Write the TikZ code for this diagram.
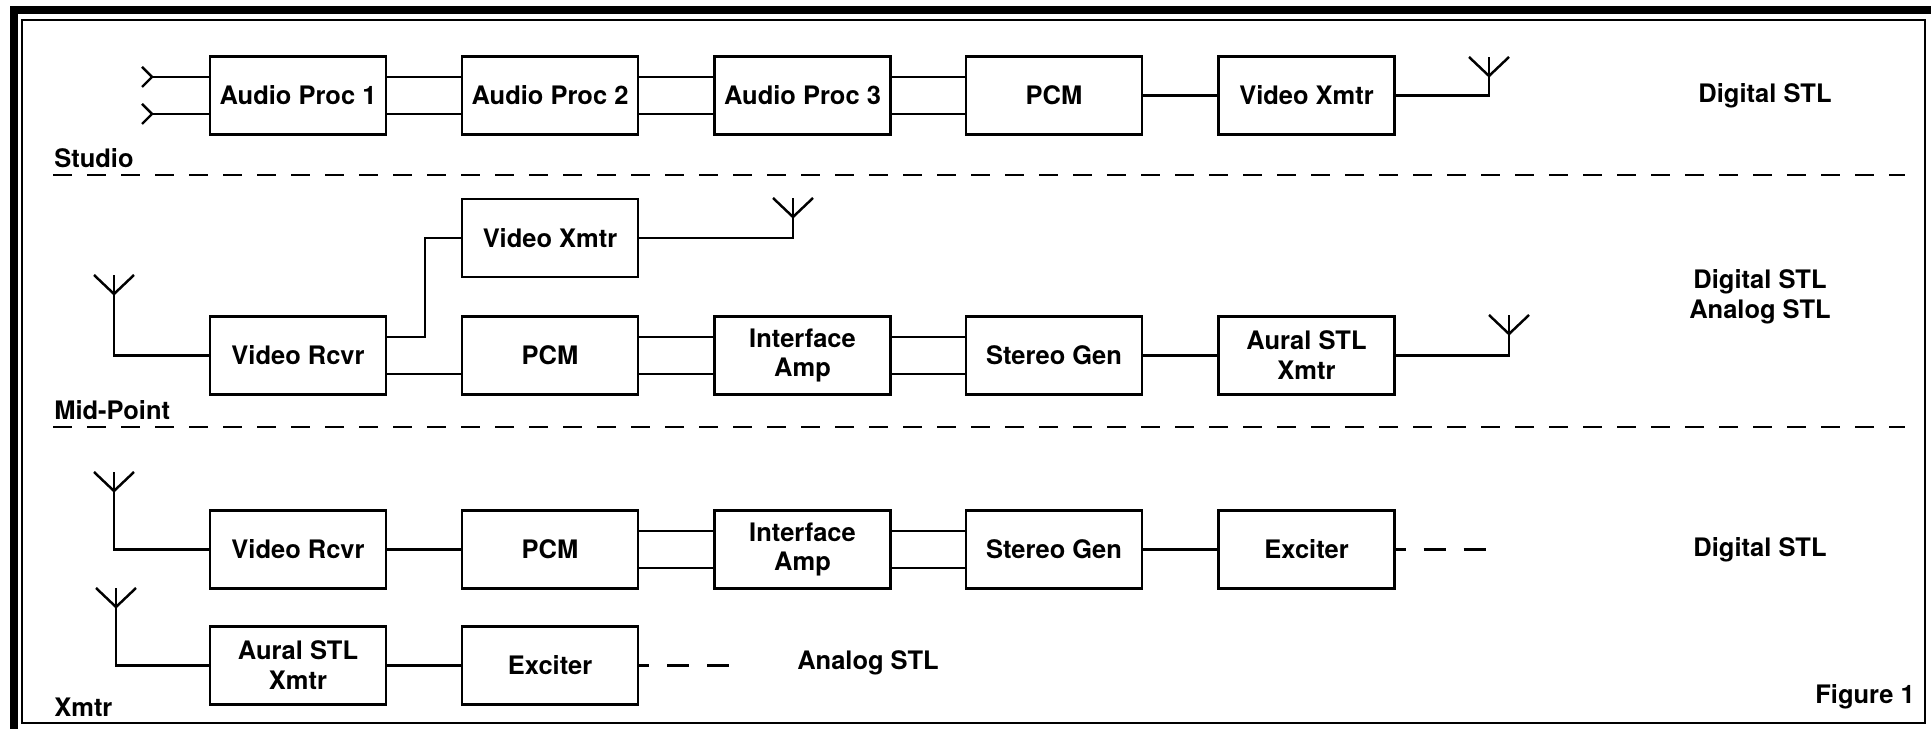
\documentclass[tikz,border=0pt]{standalone}
\usepackage{fontspec}
\setmainfont{TeX Gyre Heros}
\usetikzlibrary{calc}
\tikzset{
    unit/.style={draw, line width=1.4pt, minimum width=3.52cm, minimum height=1.56cm,
        align=center, inner sep=2pt, font=\fontsize{14.5}{17}\selectfont\bfseries},
    lbl/.style={align=center, inner sep=0pt, font=\fontsize{14.5}{17}\selectfont\bfseries},
    wire/.style={line width=1.4pt},
    divider/.style={line width=1.6pt, dash pattern=on 0.38cm off 0.3cm},
    tail/.style={line width=1.6pt, dash pattern=on 0.44cm off 0.36cm, dash phase=0.24cm},
    aerial/.pic={\draw[line width=1.4pt] (-0.4,0) -- (0,-0.38) -- (0.4,0);},
    jack/.pic={\draw[line width=1.4pt] (-0.2,0.2) -- (0,0) -- (-0.2,-0.2);}
}

\begin{document}
\begin{tikzpicture}
    \useasboundingbox (0,0) rectangle (38.62,14.58);

    % Frame
    \draw[line width=4pt] (0.28,0) |- (38.62,14.38);
    \draw[line width=1pt] (0.44,0.12) rectangle (38.5,14.18);

    % Studio
    \node[unit] (audioA) at (5.96,12.67) {Audio Proc 1};
    \node[unit] (audioB) at (11.0,12.67) {Audio Proc 2};
    \node[unit] (audioC) at (16.05,12.67) {Audio Proc 3};
    \node[unit] (pcmS) at (21.08,12.67) {PCM};
    \node[unit] (vxS) at (26.13,12.67) {Video Xmtr};
    \coordinate (inA) at (3.04,13.04);
    \coordinate (inB) at (3.04,12.30);
    \coordinate (antS) at (29.78,13.44);
    \pic at (inA) {jack};
    \pic at (inB) {jack};
    \pic at (antS) {aerial};
    \draw[wire] (inA) -- ([yshift=0.37cm]audioA.west);
    \draw[wire] (inB) -- ([yshift=-0.37cm]audioA.west);
    \foreach \a/\b in {audioA/audioB, audioB/audioC, audioC/pcmS} {
        \draw[wire] ([yshift=0.37cm]\a.east) -- ([yshift=0.37cm]\b.west);
        \draw[wire] ([yshift=-0.37cm]\a.east) -- ([yshift=-0.37cm]\b.west);
    }
    \draw[wire] (pcmS) -- (vxS);
    \draw[wire] (vxS.east) -| (antS);

    \node[lbl, anchor=west] (studio) at (1.08,11.42) {Studio};
    \node[lbl] (stlS) at (35.3,12.67) {Digital STL};
    \draw[divider] (1.06,11.08) -- (38.1,11.08);

    % Mid-Point
    \node[unit] (vxM) at (11.0,9.82) {Video Xmtr};
    \node[unit] (vrM) at (5.96,7.47) {Video Rcvr};
    \node[unit] (pcmM) at (11.0,7.47) {PCM};
    \node[unit] (iaM) at (16.05,7.47) {Interface\\Amp};
    \node[unit] (sgM) at (21.08,7.47) {Stereo Gen};
    \node[unit] (auralM) at (26.13,7.47) {Aural STL\\Xmtr};
    \coordinate (antMl) at (2.28,9.08);
    \coordinate (antMv) at (15.86,10.62);
    \coordinate (antMr) at (30.18,8.28);
    \foreach \p in {antMl, antMv, antMr}
        \pic at (\p) {aerial};
    \draw[wire] (vrM.west) -| (antMl);
    \draw[wire] ([yshift=0.37cm]vrM.east) -- ++(0.76,0) |- (vxM.west);
    \draw[wire] (vxM.east) -| (antMv);
    \draw[wire] ([yshift=-0.37cm]vrM.east) -- ([yshift=-0.37cm]pcmM.west);
    \foreach \a/\b in {pcmM/iaM, iaM/sgM} {
        \draw[wire] ([yshift=0.37cm]\a.east) -- ([yshift=0.37cm]\b.west);
        \draw[wire] ([yshift=-0.37cm]\a.east) -- ([yshift=-0.37cm]\b.west);
    }
    \draw[wire] (sgM) -- (auralM);
    \draw[wire] (auralM.east) -| (antMr);

    \node[lbl, anchor=west] (midpt) at (1.08,6.38) {Mid-Point};
    \node[lbl] (stlM) at (35.2,8.64) {Digital STL\\Analog STL};
    \draw[divider] (1.06,6.04) -- (38.1,6.04);

    % Xmtr
    \node[unit] (vrX) at (5.96,3.59) {Video Rcvr};
    \node[unit] (pcmX) at (11.0,3.59) {PCM};
    \node[unit] (iaX) at (16.05,3.59) {Interface\\Amp};
    \node[unit] (sgX) at (21.08,3.59) {Stereo Gen};
    \node[unit] (excX) at (26.13,3.59) {Exciter};
    \node[unit] (auralX) at (5.96,1.27) {Aural STL\\Xmtr};
    \node[unit] (excA) at (11.0,1.27) {Exciter};
    \coordinate (antXa) at (2.28,5.14);
    \coordinate (antXb) at (2.32,2.82);
    \coordinate (tailX) at (29.78,3.59);
    \coordinate (tailA) at (14.7,1.27);
    \pic at (antXa) {aerial};
    \pic at (antXb) {aerial};
    \draw[wire] (vrX.west) -| (antXa);
    \draw[wire] (vrX) -- (pcmX);
    \foreach \a/\b in {pcmX/iaX, iaX/sgX} {
        \draw[wire] ([yshift=0.37cm]\a.east) -- ([yshift=0.37cm]\b.west);
        \draw[wire] ([yshift=-0.37cm]\a.east) -- ([yshift=-0.37cm]\b.west);
    }
    \draw[wire] (sgX) -- (excX);
    \draw[tail] (excX.east) -- (tailX);
    \draw[wire] (auralX.west) -| (antXb);
    \draw[wire] (auralX) -- (excA);
    \draw[tail] (excA.east) -- (tailA);

    \node[lbl] (stlX) at (35.2,3.58) {Digital STL};
    \node[lbl] (stlA) at (17.36,1.32) {Analog STL};
    \node[lbl, anchor=west] (xmtr) at (1.08,0.44) {Xmtr};
    \node[lbl, anchor=east] (fig) at (38.3,0.64) {Figure 1};
\end{tikzpicture}
\end{document}
